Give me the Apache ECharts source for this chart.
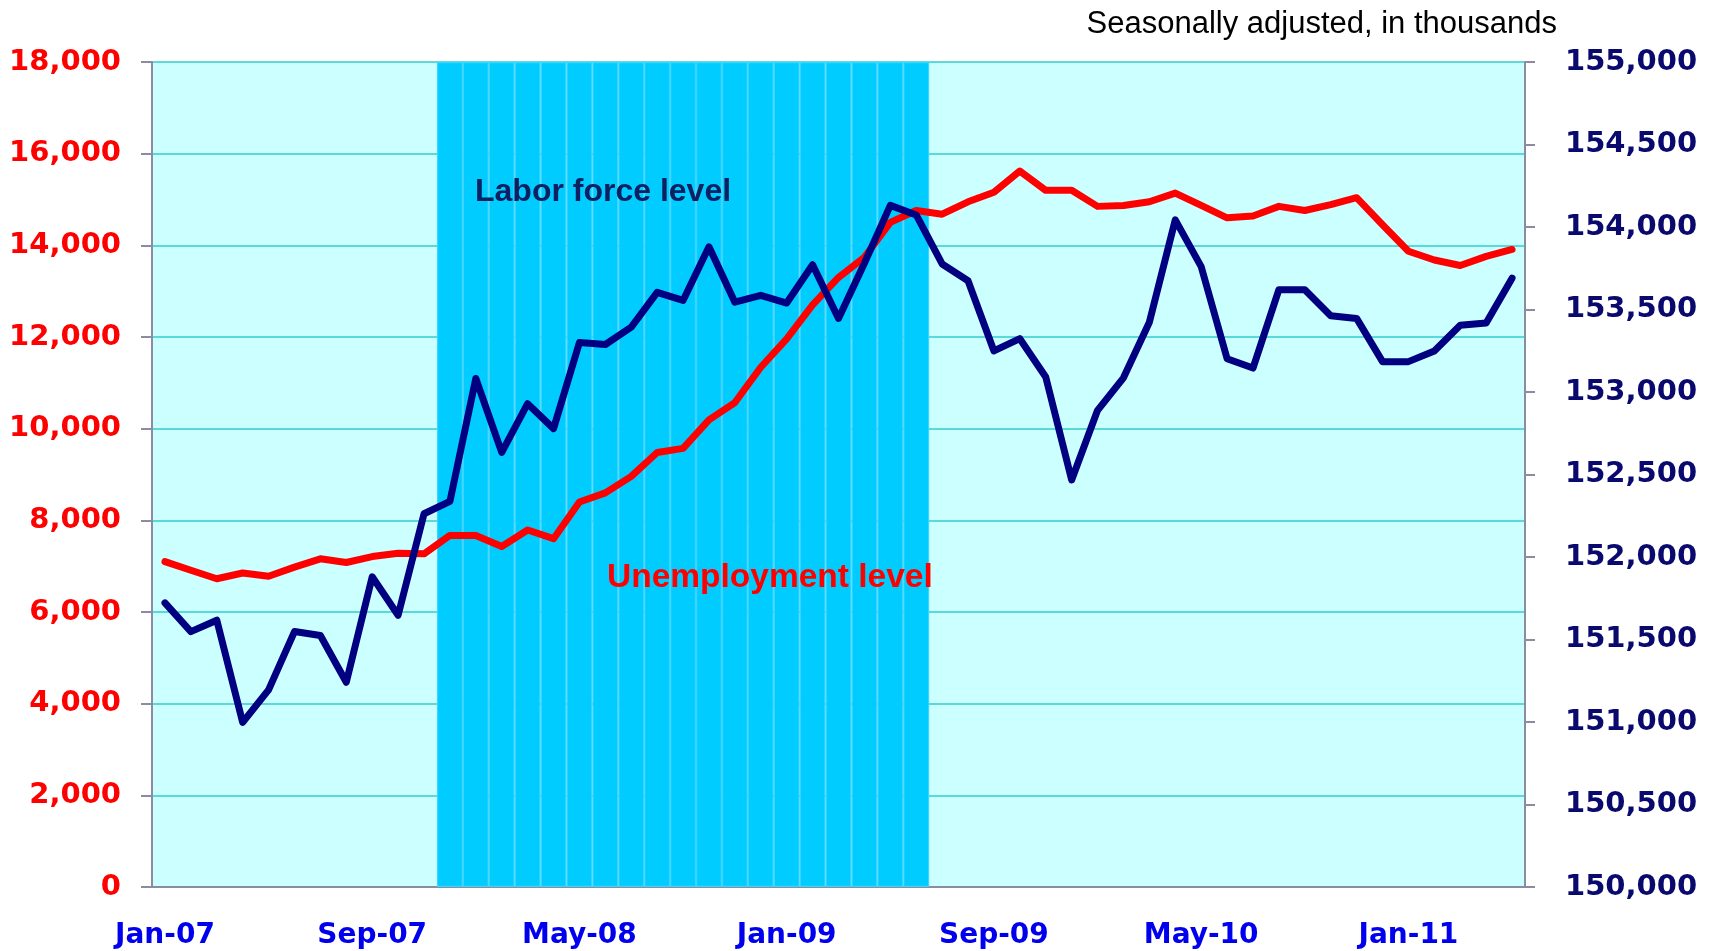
<!DOCTYPE html>
<html>
<head>
<meta charset="utf-8">
<title>Unemployment and labor force level</title>
<script src="https://cdn.jsdelivr.net/npm/echarts/dist/echarts.min.js"></script>
<style>
    html, body { margin: 0; padding: 0; background: #fff; }
    #chart { width: 1712px; height: 951px; }
</style>
</head>
<body>
<div id="chart"></div>
<script>
// 月份（类目轴）
var months = [
    'Jan-07', 'Feb-07', 'Mar-07', 'Apr-07', 'May-07', 'Jun-07', 'Jul-07', 'Aug-07', 'Sep-07', 'Oct-07', 'Nov-07', 'Dec-07',
    'Jan-08', 'Feb-08', 'Mar-08', 'Apr-08', 'May-08', 'Jun-08', 'Jul-08', 'Aug-08', 'Sep-08', 'Oct-08', 'Nov-08', 'Dec-08',
    'Jan-09', 'Feb-09', 'Mar-09', 'Apr-09', 'May-09', 'Jun-09', 'Jul-09', 'Aug-09', 'Sep-09', 'Oct-09', 'Nov-09', 'Dec-09',
    'Jan-10', 'Feb-10', 'Mar-10', 'Apr-10', 'May-10', 'Jun-10', 'Jul-10', 'Aug-10', 'Sep-10', 'Oct-10', 'Nov-10', 'Dec-10',
    'Jan-11', 'Feb-11', 'Mar-11', 'Apr-11', 'May-11'
];

// 失业人数（千人，左轴）
var unemploymentLevel = [
    7100, 6910, 6725, 6850, 6780, 6980, 7160, 7080, 7210, 7280, 7270, 7670,
    7670, 7430, 7790, 7600, 8400, 8600, 8960, 9480, 9570, 10190, 10570, 11340,
    11960, 12700, 13300, 13740, 14500, 14760, 14680, 14950, 15160, 15620, 15200, 15200,
    14850, 14870, 14950, 15140, 14870, 14600, 14640, 14850, 14760, 14890, 15040, 14450,
    13870, 13680, 13560, 13760, 13910
];

// 劳动力人数（千人，右轴）
var laborForceLevel = [
    151722, 151548, 151617, 150998, 151195, 151548, 151524, 151241, 151880, 151647, 152262, 152337,
    153082, 152634, 152929, 152778, 153300, 153288, 153393, 153604, 153555, 153880, 153544, 153586,
    153539, 153771, 153446, 153780, 154131, 154073, 153776, 153674, 153249, 153323, 153091, 152467,
    152889, 153086, 153423, 154043, 153760, 153202, 153145, 153620, 153620, 153462, 153446, 153184,
    153184, 153249, 153404, 153418, 153690
];

// 衰退期（阴影区）
var recessionStart = 'Dec-07';
var recessionEnd = 'Jun-09';

// 坐标轴范围
var leftAxis = { min: 0, max: 18000, interval: 2000 };
var rightAxis = { min: 150000, max: 155000, interval: 500 };

var axisGrey = '#8C8CA0';

function init() {
    var myChart = echarts.init(document.getElementById('chart'));

    // 衰退期柱子：每个月一根，占满整个类目宽度
    var i0 = months.indexOf(recessionStart);
    var i1 = months.indexOf(recessionEnd);
    var recessionData = months.map(function (m, i) {
        return (i >= i0 && i <= i1) ? leftAxis.max : '-';
    });

    var numFmt = function (v) {
        return Number(v).toLocaleString('en-US');
    };

    var option = {
        animation: false,
        backgroundColor: '#ffffff',
        title: {
            text: 'Seasonally adjusted, in thousands',
            right: 150,
            top: 4,
            textStyle: {
                fontFamily: 'Liberation Sans',
                fontWeight: 'normal',
                fontSize: 31,
                color: '#000000'
            }
        },
        grid: {
            left: 152,
            right: 187,
            top: 62,
            bottom: 64,
            show: true,
            backgroundColor: '#CCFFFF',
            borderWidth: 0
        },
        xAxis: {
            type: 'category',
            data: months,
            boundaryGap: true,
            axisLine: { lineStyle: { color: axisGrey, width: 2 } },
            axisTick: { interval: 7, length: 9, lineStyle: { color: axisGrey, width: 2 } },
            axisLabel: {
                interval: 7,
                margin: 35,
                color: '#0000EE',
                fontFamily: 'DejaVu Sans',
                fontWeight: 'bold',
                fontSize: 28
            },
            splitLine: { show: false }
        },
        yAxis: [
            {
                type: 'value',
                position: 'left',
                min: leftAxis.min,
                max: leftAxis.max,
                interval: leftAxis.interval,
                axisLine: { show: true, lineStyle: { color: axisGrey, width: 2 } },
                axisTick: { show: true, length: 11, lineStyle: { color: axisGrey, width: 2 } },
                axisLabel: {
                    margin: 31,
                    color: '#FF0000',
                    fontFamily: 'DejaVu Sans',
                    fontWeight: 'bold',
                    fontSize: 29,
                    formatter: numFmt
                },
                splitLine: { show: true, lineStyle: { color: '#33CCCC', width: 1.5 } }
            },
            {
                type: 'value',
                position: 'right',
                min: rightAxis.min,
                max: rightAxis.max,
                interval: rightAxis.interval,
                axisLine: { show: true, lineStyle: { color: axisGrey, width: 2 } },
                axisTick: { show: true, length: 10, lineStyle: { color: axisGrey, width: 2 } },
                axisLabel: {
                    margin: 40,
                    color: '#0A0A6E',
                    fontFamily: 'DejaVu Sans',
                    fontWeight: 'bold',
                    fontSize: 29,
                    formatter: numFmt
                },
                splitLine: { show: false }
            }
        ],
        graphic: [
            {
                type: 'text',
                left: 475,
                top: 176,
                silent: true,
                z: 100,
                style: {
                    text: 'Labor force level',
                    font: 'bold 32px "Liberation Sans"',
                    fill: '#0B2161'
                }
            },
            {
                type: 'text',
                left: 607,
                top: 561,
                silent: true,
                z: 100,
                style: {
                    text: 'Unemployment level',
                    font: 'bold 33.5px "Liberation Sans"',
                    fill: '#FF0000'
                }
            }
        ],
        series: [
            {
                name: 'Recession',
                type: 'bar',
                yAxisIndex: 0,
                data: recessionData,
                barWidth: '100%',
                silent: true,
                z: 1,
                itemStyle: {
                    color: '#00CCFF',
                    borderColor: '#3AD4FF',
                    borderWidth: 1.2
                }
            },
            {
                name: 'Unemployment level',
                type: 'line',
                yAxisIndex: 0,
                data: unemploymentLevel,
                symbol: 'none',
                z: 3,
                lineStyle: { color: '#FF0000', width: 7, cap: 'round', join: 'round' }
            },
            {
                name: 'Labor force level',
                type: 'line',
                yAxisIndex: 1,
                data: laborForceLevel,
                symbol: 'none',
                z: 4,
                lineStyle: { color: '#000080', width: 7, cap: 'round', join: 'round' }
            }
        ]
    };
    myChart.setOption(option);
}

init();
</script>
</body>
</html>
